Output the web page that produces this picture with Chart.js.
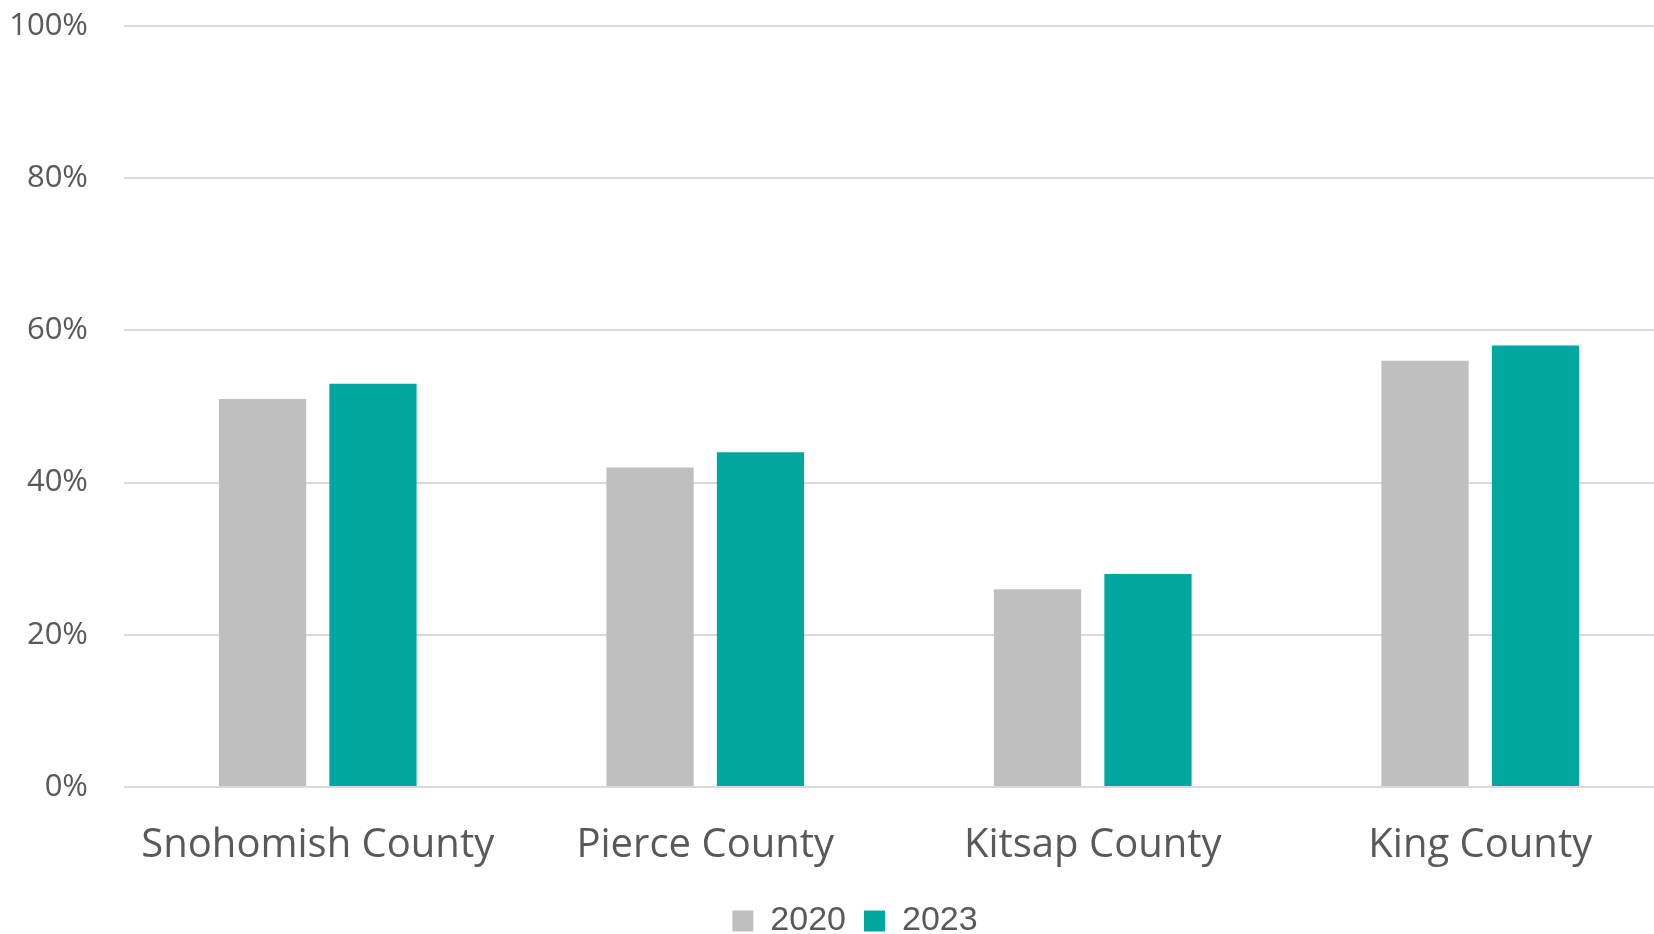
<!DOCTYPE html>
<html>
<head>
<meta charset="utf-8">
<script src="https://cdn.jsdelivr.net/npm/chart.js@4"></script>
<style>
  html, body { margin: 0; padding: 0; background: #fff; overflow: hidden; width: 1654px; height: 934px; }
  #wrap { position: absolute; left: 0; top: 0; width: 1674px; height: 934px; }
</style>
</head>
<body>
<div id="wrap"><canvas id="c"></canvas></div>
<script>
const categories = ["Snohomish County", "Pierce County", "Kitsap County", "King County"];
const series2020 = [51, 42, 26, 56];
const series2023 = [53, 44, 28, 58];
const seriesNames = ["2020", "2023"];
const yTicks = [0, 20, 40, 60, 80, 100];

const FONT = "'Open Sans', 'Noto Sans', sans-serif";
const LEGEND_FONT = "'Liberation Sans', Arial, sans-serif";
const TXT = "#595959";

const legendShift = {
  id: "legendShift",
  afterLayout(chart) {
    const lg = chart.legend;
    if (!lg) return;
    lg.left += 18; lg.right += 18;
    lg.top += 14; lg.bottom += 14;
  }
};

new Chart(document.getElementById("c"), {
  type: "bar",
  data: {
    labels: categories,
    datasets: [
      { label: seriesNames[0], data: series2020, backgroundColor: "#BFBFBF", categoryPercentage: 0.57, barPercentage: 0.79 },
      { label: seriesNames[1], data: series2023, backgroundColor: "#00A79F", categoryPercentage: 0.57, barPercentage: 0.79 }
    ]
  },
  plugins: [legendShift],
  options: {
    responsive: true,
    maintainAspectRatio: false,
    animation: false,
    layout: { padding: { left: 0, right: 0, top: 26, bottom: 0 } },
    plugins: {
      tooltip: { enabled: false },
      legend: {
        position: "bottom",
        labels: {
          boxWidth: 21, boxHeight: 21, padding: 18,
          color: TXT,
          font: { family: LEGEND_FONT, size: 34 }
        }
      }
    },
    scales: {
      x: {
        afterFit: (s) => { s.height = 85; s.paddingLeft = 0; s.paddingRight = 0; },
        grid: { display: false, drawTicks: false },
        border: { display: false },
        ticks: { color: TXT, font: { family: FONT, size: 40 }, padding: 35, maxRotation: 0 }
      },
      y: {
        min: 0, max: 100,
        afterFit: (s) => { s.width = 124; s.paddingTop = 0; s.paddingBottom = 0; },
        afterBuildTicks: (s) => { s.ticks = yTicks.map(v => ({ value: v })); },
        grid: { color: "#D9D9D9", lineWidth: 2, drawTicks: false },
        border: { display: false },
        ticks: { color: TXT, font: { family: FONT, size: 31 }, padding: 36, callback: (v) => v + "%" }
      }
    }
  }
});
</script>
</body>
</html>
